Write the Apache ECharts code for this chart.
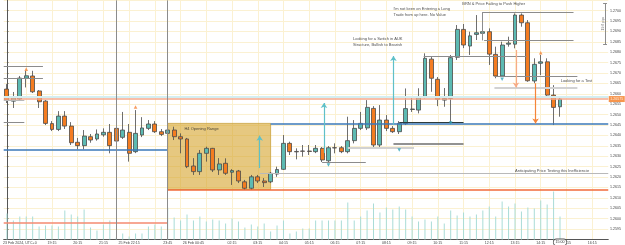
<!DOCTYPE html>
<html><head><meta charset="utf-8">
<script src="https://cdn.jsdelivr.net/npm/echarts/dist/echarts.min.js"></script>
<style>html,body{margin:0;padding:0;background:#fff}#c{width:625px;height:245px}</style>
</head><body><div id="c"></div>
<script>
// ---- categories (15-minute candles) ----
const times = [
'Fri 17:30','Fri 17:45','Fri 18:00','Fri 18:15','Fri 18:30','Fri 18:45','Fri 19:00','Fri 19:15','Fri 19:30','Fri 19:45',
'Fri 20:00','Fri 20:15','Fri 20:30','Fri 20:45','Fri 21:00','Fri 21:15','Fri 21:30','Fri 21:45',
'Sun 22:00','Sun 22:15','Sun 22:30','Sun 22:45','Sun 23:00','Sun 23:15','Sun 23:30','Sun 23:45',
'Mon 00:00','Mon 00:15','Mon 00:30','Mon 00:45','Mon 01:00','Mon 01:15','Mon 01:30','Mon 01:45',
'Mon 02:00','Mon 02:15','Mon 02:30','Mon 02:45','Mon 03:00','Mon 03:15','Mon 03:30','Mon 03:45',
'Mon 04:00','Mon 04:15','Mon 04:30','Mon 04:45','Mon 05:00','Mon 05:15','Mon 05:30','Mon 05:45',
'Mon 06:00','Mon 06:15','Mon 06:30','Mon 06:45','Mon 07:00','Mon 07:15','Mon 07:30','Mon 07:45',
'Mon 08:00','Mon 08:15','Mon 08:30','Mon 08:45','Mon 09:00','Mon 09:15','Mon 09:30','Mon 09:45',
'Mon 10:00','Mon 10:15','Mon 10:30','Mon 10:45','Mon 11:00','Mon 11:15','Mon 11:30','Mon 11:45',
'Mon 12:00','Mon 12:15','Mon 12:30','Mon 12:45','Mon 13:00','Mon 13:15','Mon 13:30','Mon 13:45',
'Mon 14:00','Mon 14:15','Mon 14:30','Mon 14:45','Mon 15:00','Mon 15:15','Mon 15:30','Mon 15:45',
'Mon 16:00','Mon 16:15','Mon 16:30','Mon 16:45'
];

// ---- OHLC ----
const open = [
1.26623,1.26565,1.26575,1.26675,1.26686,1.26614,1.26565,1.26457,1.26429,1.26493,
1.26445,1.26367,1.26351,1.26394,1.26383,1.26403,1.26415,1.26434,1.26391,1.26415,
1.26322,1.26402,1.26434,1.26455,1.26418,1.26410,1.26426,1.26394,1.26383,1.26253,
1.26226,1.26314,1.26338,1.26234,1.26266,1.26223,1.26229,1.26177,1.26146,1.26201,
1.26181,1.26177,1.26214,1.26237,1.26362,1.26323,1.26325,1.26325,1.26322,1.26338,
1.26278,1.26341,1.26341,1.26322,1.26375,1.26434,1.26436,1.26530,1.26354,1.26474,
1.26434,1.26418,1.26457,1.26525,1.26522,1.26586,1.26767,1.26670,1.26570,1.26578,
1.26776,1.26910,1.26830,1.26886,1.26891,1.26899,1.26790,1.26686,1.26839,1.26839,
1.26979,1.26942,1.26662,1.26747,1.26754,1.26594,1.26538];
const close = [
1.26570,1.26581,1.26676,1.26687,1.26610,1.26562,1.26458,1.26429,1.26493,1.26445,
1.26365,1.26351,1.26397,1.26378,1.26407,1.26415,1.26351,1.26373,1.26426,1.26314,
1.26410,1.26436,1.26455,1.26418,1.26405,1.26426,1.26394,1.26383,1.26250,1.26226,
1.26314,1.26338,1.26234,1.26263,1.26218,1.26231,1.26181,1.26146,1.26201,1.26181,
1.26173,1.26218,1.26236,1.26362,1.26322,1.26321,1.26324,1.26323,1.26338,1.26282,
1.26341,1.26340,1.26322,1.26375,1.26434,1.26458,1.26535,1.26354,1.26474,1.26434,
1.26418,1.26458,1.26529,1.26527,1.26586,1.26771,1.26675,1.26574,1.26578,1.26774,
1.26910,1.26835,1.26879,1.26894,1.26899,1.26791,1.26686,1.26835,1.26844,1.26979,
1.26942,1.26663,1.26742,1.26754,1.26594,1.26535,1.26575];
const high = [
1.26647,1.26609,1.26686,1.26711,1.26711,1.26618,1.26570,1.26469,1.26517,1.26517,
1.26464,1.26388,1.26426,1.26407,1.26429,1.26434,1.26455,1.26484,1.26513,1.26455,
1.26522,1.26488,1.26474,1.26469,1.26431,1.26440,1.26442,1.26410,1.26388,1.26291,
1.26330,1.26346,1.26340,1.26291,1.26290,1.26238,1.26234,1.26186,1.26210,1.26210,
1.26195,1.26224,1.26250,1.26402,1.26370,1.26338,1.26354,1.26354,1.26354,1.26344,
1.26349,1.26362,1.26349,1.26490,1.26474,1.26513,1.26570,1.26541,1.26546,1.26498,
1.26445,1.26469,1.26626,1.26580,1.26627,1.26795,1.26777,1.26681,1.26628,1.26787,
1.26931,1.26936,1.26899,1.26979,1.26907,1.26915,1.26827,1.26851,1.26875,1.26987,
1.26987,1.26955,1.26771,1.26787,1.26771,1.26642,1.26586];
const low = [
1.26556,1.26532,1.26570,1.26631,1.26604,1.26532,1.26450,1.26421,1.26421,1.26431,
1.26354,1.26333,1.26333,1.26365,1.26375,1.26394,1.26314,1.26364,1.26383,1.26274,
1.26315,1.26392,1.26426,1.26412,1.26397,1.26402,1.26378,1.26314,1.26243,1.26210,
1.26210,1.26274,1.26224,1.26210,1.26210,1.26162,1.26171,1.26138,1.26138,1.26171,
1.26152,1.26171,1.26201,1.26234,1.26306,1.26285,1.26298,1.26306,1.26315,1.26272,
1.26267,1.26314,1.26315,1.26314,1.26362,1.26426,1.26426,1.26344,1.26344,1.26421,
1.26412,1.26407,1.26450,1.26513,1.26506,1.26578,1.26610,1.26541,1.26538,1.26458,
1.26763,1.26820,1.26787,1.26859,1.26883,1.26739,1.26675,1.26682,1.26827,1.26819,
1.26923,1.26658,1.26651,1.26690,1.26586,1.26450,1.26490];
const volume = [
2600,1900,2300,2300,2300,1300,1400,1400,1300,2900,
2500,2300,3000,1200,900,1500,1900,200,600,300,
600,600,1300,1500,1300,3200,2200,1900,2500,1900,
2300,1800,2000,1900,1600,2100,1800,1200,1500,1300,
1600,800,1400,1900,600,800,1100,1100,1900,1900,
1900,1900,1900,3700,1900,2300,2900,3600,2700,3200,
3000,3300,3000,2300,1800,2000,1800,2300,1600,2900,
2400,2700,2300,2500,2900,3300,2300,3800,3300,3600,
2800,3200,3100,3900,3500,4800,2300];

// ---- axis tick labels ----
const xTickIdx = [2,7,11,15,19,25,29,35,39,43,47,51,55,59,63,67,71,75,79,83,87,91];
const xTickText = ['23 Feb 2024, UTC+0','19:15','20:15','21:15','25 Feb 22:15','23:45','26 Feb 00:45','02:15','03:15','04:15','05:15','06:15','07:15','08:15','09:15','10:15','11:15','12:15','13:15','14:15','15:15','16:15'];
const hourGridIdx = [3,7,11,15,19,23,27,31,35,39,43,47,51,55,59,63,67,71,75,79,83,87,91];
const priceMin = 1.2590, priceMax = 1.2705, priceStep = 0.0005;

// ---- drawings: [fromIdx, toIdx, price, kind] ----
const levels = [
 [-0.5, 93.5, 1.26586, 'cyan'],
 [-0.5, 93.5, 1.26575, 'priceLine'],
 [-0.5, 5.6, 1.26735, 'gray'],
 [-0.5, 5.6, 1.26675, 'gray'],
 [-0.5, 2.7, 1.26570, 'light'],
 [-0.5, 2.7, 1.26463, 'gray'],
 [-0.5, 25, 1.26333, 'blue'],
 [41, 93.5, 1.26458, 'blue'],
 [61, 71, 1.26462, 'dark'],
 [25, 93.5, 1.26140, 'orange'],
 [-0.5, 25, 1.25980, 'salmon'],
 [39.3, 93.5, 1.26219, 'light'],
 [53, 63.3, 1.26339, 'lightThick'],
 [49, 55.8, 1.26269, 'gray'],
 [60.1, 71, 1.26362, 'darkGray'],
 [73.9, 88.1, 1.26992, 'gray'],
 [74.2, 88.1, 1.26857, 'gray'],
 [64.8, 80.8, 1.26782, 'gray'],
 [75.8, 88.7, 1.26686, 'gray'],
 [75.8, 88.7, 1.26628, 'lightThick'],
 [92.7, 93.3, 1.27037, 'gray'],
 [92.7, 93.3, 1.26839, 'gray']
];
// vertical segments: [idx, fromPrice, toPrice]
const sessionBreaks = [17, 25];
const vSegments = [[73.9, 1.26992, 1.26857], [93.0, 1.27037, 1.26839]];
const rulerNote = [92.75, 1.26938, '19.8 pips'];
// arrows: [idx, fromPrice, toPrice, kind]
const arrows = [
 [49.3, 1.26315, 1.26556, 'teal'],
 [60.1, 1.26450, 1.26782, 'teal'],
 [39.3, 1.26243, 1.26399, 'teal'],
 [79.15, 1.26811, 1.26631, 'salmon'],
 [82.2, 1.26651, 1.26458, 'orange']
];
const upMarks = [[3, 1.26719], [20, 1.26537], [83, 1.26798]];
const downMarks = [[50, 1.26258], [61, 1.26330], [69, 1.26460], [77, 1.26670]];
const openingRange = [25, 41, 1.26458, 1.26140];
const notes = [
 [27.6, 1.26431, 'H4 Opening Range'],
 [53.8, 1.26849, 'Looking for a Switch in AUK\nStructure, Bullish to Bearish'],
 [60.1, 1.26995, "I'm not keen on Entering a Long\nTrade from up here. No Value"],
 [70.8, 1.27032, 'BRN & Price Failing to Push Higher'],
 [86.1, 1.26662, 'Looking for a Test'],
 [79.0, 1.26231, 'Anticipating Price Testing this Inefficiencie']
];

// ---- styles ----
const lineKinds = {
 gray:{color:'#8c8c8c', width:1},
 light:{color:'#b9b9b9', width:1},
 lightThick:{color:'#d2d2d2', width:2},
 blue:{color:'#3b78b8', width:1.5},
 dark:{color:'#2e3b3b', width:1.2},
 darkGray:{color:'#6e6e6e', width:1.5},
 orange:{color:'#f26a3a', width:1.5},
 salmon:{color:'#f58a70', width:1.5},
 cyan:{color:'#d4eef1', width:2},
 priceLine:{color:'#f6a98c', width:1.5}
};
const arrowKinds = {teal:'#5fc0c8', salmon:'#f7ab86', orange:'#f5843a'};
const FONT = 'Liberation Sans, Arial, sans-serif';

const chart = echarts.init(document.getElementById('c'), null, {renderer:'canvas'});
const tickSet = new Set(xTickIdx);
const gridSet = new Set(hourGridIdx);
const lastClose = close[close.length-1];

const levelData = levels.map(l => [
  {coord:[l[0], l[2]], lineStyle:Object.assign({type:'solid'}, lineKinds[l[3]])},
  {coord:[l[1], l[2]]}
]);
sessionBreaks.forEach(i => levelData.push([
  {coord:[i, priceMax], lineStyle:{color:'#8c8c8c', width:1, type:'solid'}},
  {coord:[i, priceMin]}
]));
vSegments.forEach(v => levelData.push([
  {coord:[v[0], v[1]], lineStyle:{color:'#8c8c8c', width:1, type:'solid'}},
  {coord:[v[0], v[2]]}
]));
const arrowData = arrows.map(a => [
  {coord:[a[0], a[1]], lineStyle:{color:arrowKinds[a[3]], width:1.2, type:'solid'}, itemStyle:{color:arrowKinds[a[3]]}},
  {coord:[a[0], a[2]]}
]);

const option = {
 animation:false,
 backgroundColor:'#ffffff',
 grid:{left:-2.75, top:0.3, width:611, height:239.1},
 xAxis:[
  {type:'category', data:times, boundaryGap:true,
   axisLine:{lineStyle:{color:'#555', width:1}},
   axisTick:{show:false},
   axisLabel:{interval:(i)=>tickSet.has(i), formatter:(v,i)=>xTickText[xTickIdx.indexOf(i)],
     fontSize:3.6, color:'#444', margin:1.6, fontFamily:FONT},
   splitLine:{show:true, interval:(i)=>gridSet.has(i), alignWithLabel:true, lineStyle:{color:'#fbf1d2', width:1}},
   axisPointer:{show:true, value:'Mon 15:00', status:'show', type:'none', triggerTooltip:false,
     label:{show:true, formatter:'15:00', backgroundColor:'#ffffff', borderColor:'#555', borderWidth:0.8,
       color:'#333', fontSize:3.6, padding:[0.8,1.8], fontFamily:FONT, margin:1}}
  },
  {type:'value', min:-0.5, max:93.5, show:false}
 ],
 yAxis:[
  {type:'value', position:'right', min:priceMin, max:priceMax, interval:priceStep,
   axisLine:{show:true, lineStyle:{color:'#555', width:1}},
   axisTick:{show:true, length:1.5, lineStyle:{color:'#555'}},
   axisLabel:{fontSize:3.6, color:'#444', margin:1.8, fontFamily:FONT, showMinLabel:false, showMaxLabel:false,
     formatter:(v)=>v.toFixed(4)},
   splitLine:{show:true, lineStyle:{color:'#fbf1d2', width:1}}
  },
  {type:'value', min:0, max:23910, show:false}
 ],
 series:[
  {type:'bar', xAxisIndex:0, yAxisIndex:1, data:volume, barWidth:1, silent:true, z:1,
   itemStyle:{color:'#a9dcd7'}},
  {type:'line', xAxisIndex:1, yAxisIndex:0, data:[], z:2, silent:true,
   markLine:{silent:true, symbol:['none','none'], label:{show:false}, data:levelData.slice(0,2)}},
  {type:'candlestick', xAxisIndex:0, yAxisIndex:0, barWidth:4.4, z:3, silent:true,
   data: open.map((o,i)=>[o, close[i], low[i], high[i]]),
   itemStyle:{color:'#5cbab2', color0:'#f47c20', borderColor:'#4a4a4a', borderColor0:'#4a4a4a', borderWidth:0.8}
  },
  {type:'line', xAxisIndex:1, yAxisIndex:0, data:[], z:5, silent:true,
   markArea:{silent:true, itemStyle:{color:'rgba(210,155,24,0.55)', borderColor:'#c9a13c', borderWidth:0.8},
     data:[[{coord:[openingRange[0], openingRange[2]]},{coord:[openingRange[1], openingRange[3]]}]]}},
  {type:'line', xAxisIndex:1, yAxisIndex:0, data:[], z:6, silent:true,
   markLine:{silent:true, symbol:['none','none'], label:{show:false}, data:levelData.slice(2)}},
  {type:'line', xAxisIndex:1, yAxisIndex:0, data:[], z:7, silent:true,
   markLine:{silent:true, symbol:['none','arrow'], symbolSize:5, label:{show:false}, data:arrowData}},
  {type:'scatter', xAxisIndex:1, yAxisIndex:0, data:upMarks, symbol:'triangle', symbolSize:3.6, z:8, silent:true,
   itemStyle:{color:'#f5843a'}},
  {type:'scatter', xAxisIndex:1, yAxisIndex:0, data:downMarks, symbol:'triangle', symbolRotate:180, symbolSize:3.6, z:8, silent:true,
   itemStyle:{color:'#2fa5b8'}},
  {type:'scatter', xAxisIndex:1, yAxisIndex:0, symbolSize:0, z:9, silent:true,
   data: notes.map(n => ({value:[n[0], n[1]], name:n[2]})),
   label:{show:true, position:'right', distance:0, formatter:(p)=>p.name, fontSize:4, lineHeight:5.6,
     color:'#222', fontFamily:FONT}},
  {type:'scatter', xAxisIndex:1, yAxisIndex:0, symbolSize:0, z:9, silent:true,
   data:[{value:[rulerNote[0], rulerNote[1]], name:rulerNote[2]}],
   label:{show:true, position:'inside', rotate:90, formatter:(p)=>p.name, fontSize:3.4, color:'#555', fontFamily:FONT}},
  {type:'scatter', xAxisIndex:1, yAxisIndex:0, symbolSize:0, z:10, silent:true,
   data:[{value:[93.5, lastClose], name:lastClose.toFixed(5)}],
   label:{show:true, position:'right', distance:0.5, formatter:(p)=>p.name, backgroundColor:'#f47b20',
     color:'#fff', fontSize:3.6, padding:[1,1.5], fontFamily:FONT}}
 ]
};
chart.setOption(option);
</script></body></html>
